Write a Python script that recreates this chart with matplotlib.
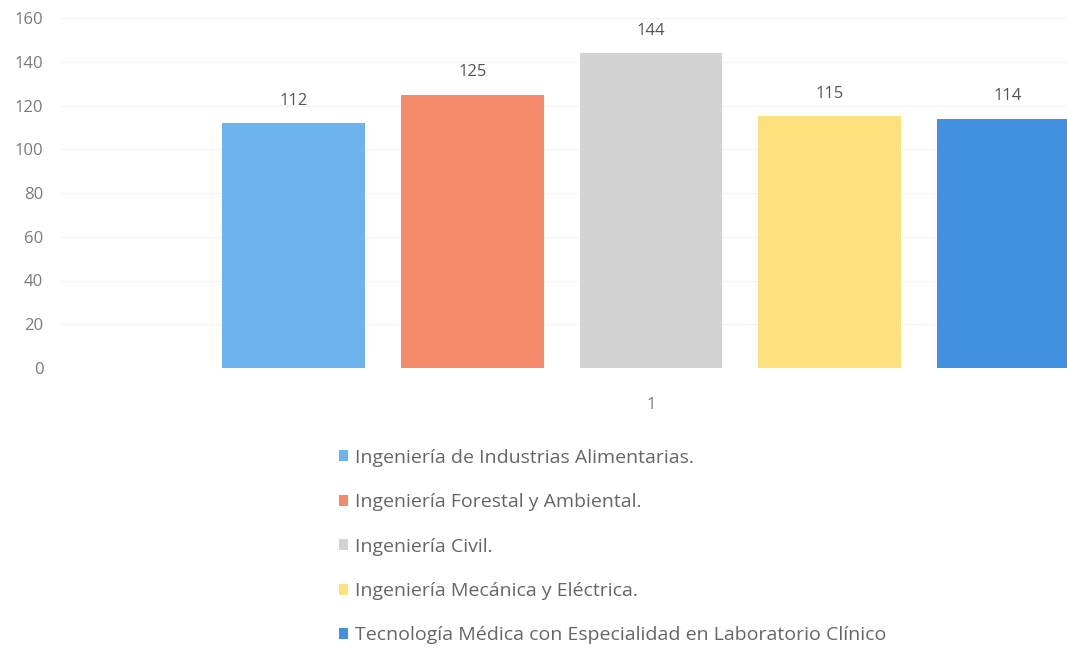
import numpy as np
import matplotlib.pyplot as plt

# data
carreras = ["Ingeniería de Industrias Alimentarias.",
            "Ingeniería Forestal y Ambiental.",
            "Ingeniería Civil.",
            "Ingeniería Mecánica y Eléctrica.",
            "Tecnología Médica con Especialidad en Laboratorio Clínico"]
valores = [112, 125, 144, 115, 114]
categoria = ["1"]
colores = ["#6db4ee", "#f38a6a", "#d3d3d3", "#fce17c", "#4290e0"]

plt.rcParams['font.family'] = ['Open Sans', 'DejaVu Sans']
gris = "#7a7a7a"

fig = plt.figure(figsize=(10.67, 6.49), dpi=100)
ax = fig.add_axes([60/1067, (649-368)/649, 1182/1067, 350/649])

x = np.arange(len(carreras)) - (len(carreras) - 1) / 2
barras = []
for i in range(len(carreras)):
    b = ax.bar(x[i], valores[i], width=0.8, color=colores[i], label=carreras[i], zorder=2)
    barras.append(b)
    ax.text(x[i], valores[i] + 6.5, str(valores[i]), ha="center", va="bottom",
            fontsize=12, color="#555555")

ax.set_xlim(-3.31, 3.31)
ax.set_ylim(0, 160)
ax.set_yticks(range(0, 161, 20))
ax.set_xticks([0], categoria)
ax.tick_params(axis="both", length=0, labelsize=12, labelcolor=gris)
ax.tick_params(axis="x", pad=21)
ax.tick_params(axis="y", pad=12)
ax.grid(axis="y", color="#f4f4f4", linewidth=0.8, zorder=0)
for s in ax.spines.values():
    s.set_visible(False)

fig.legend(handles=barras, labels=carreras, loc="upper left",
           bbox_to_anchor=(329/1067, 1 - 439/649), frameon=False,
           fontsize=14, labelcolor="#666666", handlelength=0.5, handleheight=0.5,
           handletextpad=0.35, labelspacing=1.36, borderpad=0)

fig.savefig("out.png", dpi=100)
